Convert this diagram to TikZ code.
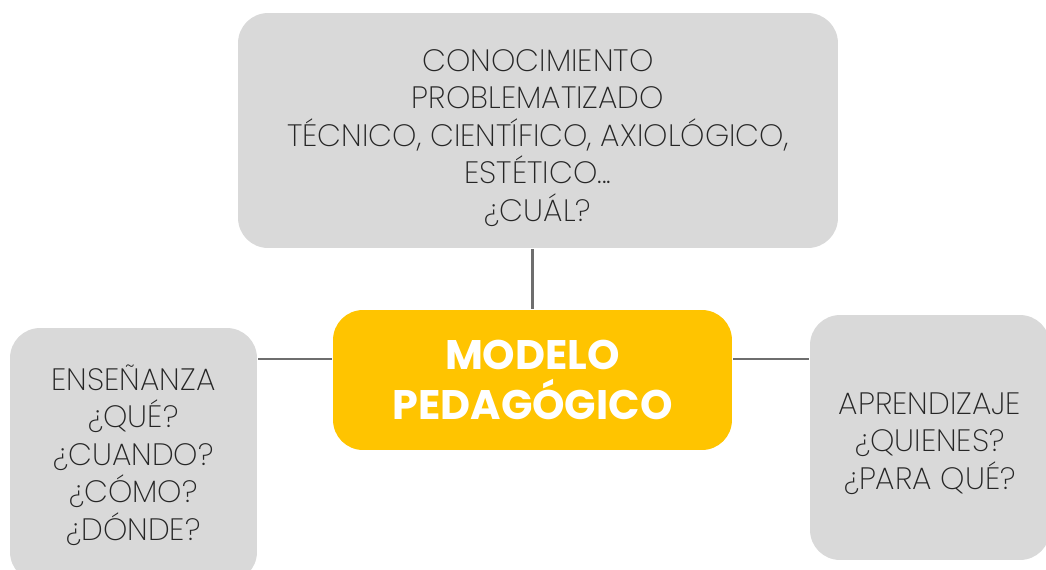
\documentclass[tikz,border=0pt]{standalone}
\usepackage{fontspec}
\setmainfont{Poppins}[UprightFont=* ExtraLight, BoldFont=* Bold]
\usetikzlibrary{positioning}
\definecolor{boxgray}{HTML}{D9D9D9}
\definecolor{boxyellow}{HTML}{FFC400}
\definecolor{linegray}{HTML}{6E6E6E}
\definecolor{textgray}{HTML}{262626}

\begin{document}
\begin{tikzpicture}
  [
  x=0.02cm, y=-0.02cm,
  font=\fontsize{17.6}{21.3}\selectfont, line width=1.2pt,
  topic/.style={rectangle, rounded corners=0.6cm, fill=boxgray, text=textgray, align=center, inner sep=0pt},
  model/.style={rectangle, rounded corners=0.6cm, fill=boxyellow, text=white, align=center, inner sep=0pt,
    font=\fontsize{23.5}{28.5}\selectfont\bfseries},
  link/.style={draw=linegray}
  ]

\useasboundingbox (0,0) rectangle (1046,569);

\node[model, minimum width=7.98cm, minimum height=2.8cm] (modelo) at (532.5,380) {MODELO\\PEDAG\'OGICO};

\node[topic, minimum width=12cm, minimum height=4.7cm] (conoc) at (538,130.5)
  {\rule{0pt}{21pt}CONOCIMIENTO\\PROBLEMATIZADO\\T\'ECNICO, CIENT\'IFICO, AXIOL\'OGICO,\\EST\'ETICO...\\¿CU\'AL?};

\node[topic, minimum width=4.94cm, minimum height=5.08cm] (ensen) at (133.5,455)
  {ENSE\~NANZA\\¿QU\'E?\\¿CUANDO?\\¿C\'OMO?\\¿D\'ONDE?};

\node[topic, minimum width=4.8cm, minimum height=4.9cm] (aprend) at (930,437.5)
  {\rule{0pt}{19pt}APRENDIZAJE\\¿QUIENES?\\¿PARA QU\'E?};

\draw[link] (conoc.south -| modelo.north) -- (modelo.north);
\draw[link] (ensen.east |- 0,359) -- (modelo.west |- 0,359);
\draw[link] (modelo.east |- 0,359) -- (aprend.west |- 0,359);
\end{tikzpicture}
\end{document}
